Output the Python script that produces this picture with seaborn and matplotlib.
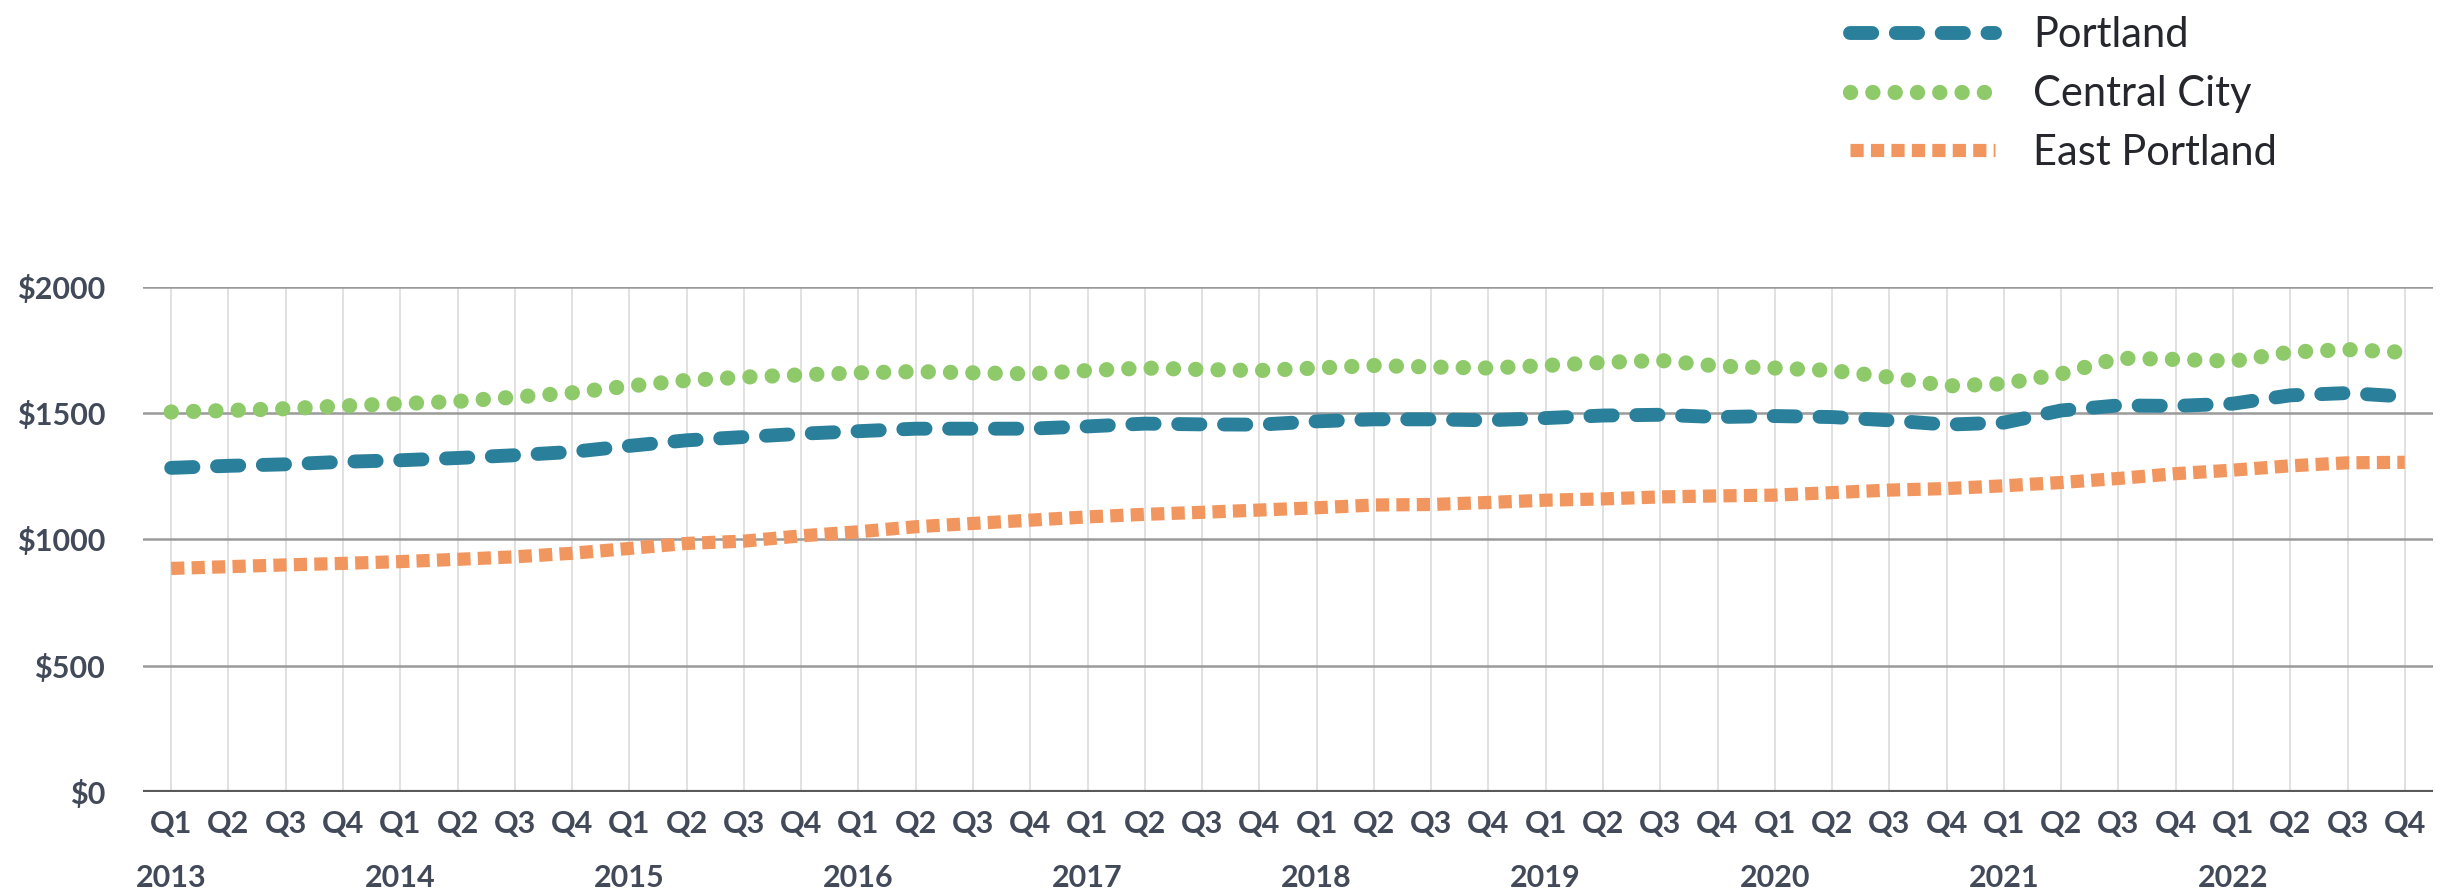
import numpy as np
import pandas as pd
import matplotlib
matplotlib.use("Agg")
import matplotlib.pyplot as plt
import seaborn as sns

# quarterly median rent, 2013 Q1 .. 2022 Q4
quarters = ["Q1", "Q2", "Q3", "Q4"] * 10
years = ["2013", "2014", "2015", "2016", "2017", "2018", "2019", "2020", "2021", "2022"]

portland = [1283, 1291, 1297, 1307, 1313, 1322, 1333, 1346, 1370, 1392,
            1405, 1418, 1428, 1438, 1438, 1438, 1447, 1458, 1455, 1454,
            1467, 1475, 1475, 1471, 1480, 1490, 1493, 1484, 1488, 1484,
            1471, 1454, 1462, 1510, 1530, 1528, 1537, 1570, 1579, 1565]
central_city = [1504, 1510, 1517, 1528, 1537, 1546, 1563, 1580, 1607, 1629,
                1642, 1651, 1659, 1664, 1659, 1655, 1668, 1678, 1672, 1668,
                1678, 1688, 1682, 1678, 1688, 1700, 1708, 1686, 1678, 1668,
                1642, 1607, 1616, 1655, 1717, 1712, 1705, 1741, 1751, 1740]
east_portland = [885, 892, 899, 905, 912, 921, 931, 945, 964, 984,
                 993, 1014, 1030, 1050, 1063, 1076, 1089, 1099, 1107, 1116,
                 1125, 1136, 1138, 1146, 1155, 1160, 1168, 1172, 1175, 1185,
                 1195, 1201, 1212, 1225, 1241, 1260, 1274, 1291, 1303, 1305]

yticks = [0, 500, 1000, 1500, 2000]

tick_color = "#424958"
sns.set_style("white")
plt.rcParams["font.family"] = ["Lato", "DejaVu Sans"]

df = pd.DataFrame({"idx": np.arange(len(quarters)),
                   "Portland": portland,
                   "Central City": central_city,
                   "East Portland": east_portland})

fig = plt.figure(figsize=(24.58, 8.93), dpi=100)
ax = fig.add_axes([0.058, 0.113, 0.932, 0.566])

styles = {
    "Portland":      dict(color="#2a7f9b", lw=10, dashes=(1.6, 1.7), cap="round"),
    "Central City":  dict(color="#8ec96a", lw=11, dashes=(0.01, 1.45), cap="round"),
    "East Portland": dict(color="#f29660", lw=9.5, dashes=(1.0, 0.55), cap="butt"),
}

for name, st in styles.items():
    sns.lineplot(data=df, x="idx", y=name, ax=ax, color=st["color"],
                 linewidth=st["lw"], label=name, zorder=3)
    ln = ax.lines[-1]
    ln.set_dashes(st["dashes"])
    ln.set_dash_capstyle(st["cap"])

ax.set_xlim(-0.5, len(quarters) - 0.5)
ax.set_ylim(0, 2000)
ax.set_xlabel("")
ax.set_ylabel("")

ax.set_yticks(yticks)
ax.set_yticklabels([f"${v}" for v in yticks], fontweight="bold")
ax.set_xticks(range(len(quarters)))
ax.set_xticklabels(quarters, fontweight="bold")
ax.tick_params(axis="both", length=0, labelsize=22, labelcolor=tick_color)
ax.tick_params(axis="y", pad=27)
ax.tick_params(axis="x", pad=13)

ax.grid(axis="x", color="#dcdcdc", linewidth=1.2)
ax.grid(axis="y", color="#9a9a9a", linewidth=1.8)
ax.set_axisbelow(True)
for s in ax.spines.values():
    s.set_visible(False)
ax.axhline(0, color="#5a5a5a", linewidth=3, zorder=2)

for k, yr in enumerate(years):
    ax.text(k * 4, -0.17, yr, transform=ax.get_xaxis_transform(),
            ha="center", va="center", fontsize=22, fontweight="bold",
            color=tick_color)

ax.legend_.remove()
handles, labels = ax.get_legend_handles_labels()
fig.legend(handles, labels, loc="upper left", bbox_to_anchor=(0.744, 1.005),
           frameon=False, fontsize=30, handlelength=3.5, handletextpad=0.9,
           labelspacing=0.5, borderpad=0, labelcolor="#25272c")

fig.savefig("out.png", dpi=100)
